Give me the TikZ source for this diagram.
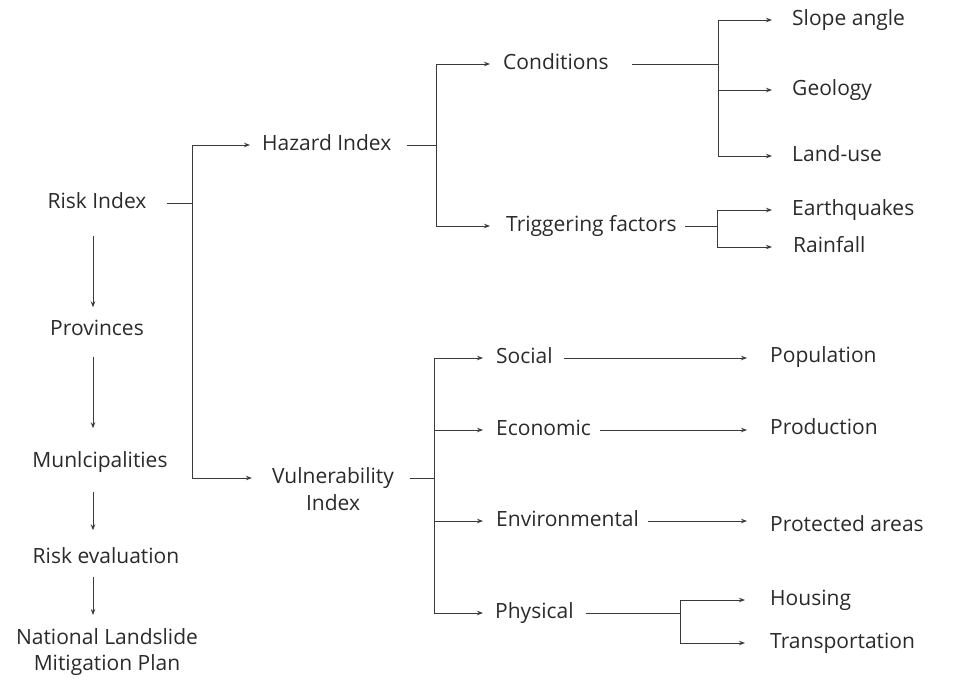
\documentclass[tikz,border=0pt]{standalone}
\usepackage{fontspec}
\setmainfont{Open Sans}
\usetikzlibrary{arrows.meta}
\definecolor{txtc}{HTML}{2A2A2A}
\definecolor{linec}{HTML}{3A3A3A}
\begin{document}
\begin{tikzpicture}[x=1pt,y=-1pt,
  lbl/.style={inner sep=0pt, text=txtc, font=\fontsize{21}{26}\selectfont, text height=16pt, text depth=5pt},
  ln/.style={draw=linec, line width=1pt},
  arr/.style={ln, -{Stealth[length=6pt,width=4.5pt]}},
]
\useasboundingbox (0,0) rectangle (955,680);
% left column
\node[lbl] (risk) at (97,203) {Risk Index};
\node[lbl] (prov) at (97,330) {Provinces};
\node[lbl] (muni) at (100,462) {Munlcipalities};
\node[lbl] (reval) at (106,558) {Risk evaluation};
\node[inner sep=0pt, text=txtc, font=\fontsize{21}{26}\selectfont, align=center, anchor=north] (nlmp) at (107,628) {National Landslide\\Mitigation Plan};
\coordinate (vx) at (93,0);
\draw[arr, shorten <=22pt, shorten >=12pt] (risk.south -| vx) -- (prov.north -| vx);
\draw[arr, shorten <=16pt, shorten >=23pt] (prov.south -| vx) -- (muni.north -| vx);
\draw[arr, shorten <=19pt, shorten >=17pt] (muni.south -| vx) -- (reval.north -| vx);
\draw[arr, shorten <=8pt, shorten >=13pt] (reval.south -| vx) -- (nlmp.north -| vx);
% hazard / vulnerability
\node[lbl, anchor=west] (haz) at (262,145) {Hazard Index};
\node[lbl] (vul) at (333,478) {Vulnerability};
\node[lbl] (vulidx) at (333,505) {Index};
\coordinate (j1) at (192,201);
\draw[ln, shorten <=20pt] (risk.east) -- (risk.east -| j1);
\draw[arr, shorten >=12pt] (j1 |- vul.west) -- (j1 |- haz.west) -- (haz.west);
\draw[arr, shorten >=20pt] (j1 |- vul.west) -- (vul.west);
% hazard branch
\coordinate (j2) at (436,146);
\node[lbl, anchor=west] (cond) at (503,64) {Conditions};
\node[lbl, anchor=west] (trig) at (506,226) {Triggering factors};
\draw[ln, shorten <=15pt] (haz.east) -- (haz.east -| j2);
\draw[arr, shorten >=13pt] (j2 |- trig.west) -- (j2 |- cond.west) -- (cond.west);
\draw[arr, shorten >=16pt] (j2 |- trig.west) -- (trig.west);
% conditions
\coordinate (j3) at (718,62);
\node[lbl, anchor=west] (slope) at (792,20) {Slope angle};
\node[lbl, anchor=west] (geo) at (792,90) {Geology};
\node[lbl, anchor=west] (land) at (792,156) {Land-use};
\draw[ln, shorten <=23pt] (cond.east) -- (cond.east -| j3);
\draw[arr, shorten >=20pt] (j3 |- land.west) -- (j3 |- slope.west) -- (slope.west);
\draw[arr, shorten >=20pt] (j3 |- geo.west) -- (geo.west);
\draw[arr, shorten >=20pt] (j3 |- land.west) -- (land.west);
% triggering
\coordinate (j4) at (717,225);
\node[lbl, anchor=west] (eq) at (792,210) {Earthquakes};
\node[lbl, anchor=west] (rain) at (793,247) {Rainfall};
\draw[ln, shorten <=8pt] (trig.east) -- (trig.east -| j4);
\draw[arr, shorten >=20pt] (j4 |- rain.west) -- (j4 |- eq.west) -- (eq.west);
\draw[arr, shorten >=21pt] (j4 |- rain.west) -- (rain.west);
% vulnerability branch
\coordinate (j5) at (434,477);
\draw[ln, shorten <=16pt] (vul.east) -- (vul.east -| j5);
\node[lbl, anchor=west] (soc) at (496,358) {Social};
\node[lbl, anchor=west] (eco) at (496,430) {Economic};
\node[lbl, anchor=west] (env) at (496,521) {Environmental};
\node[lbl, anchor=west] (phy) at (495,613) {Physical};
\draw[arr, shorten >=13pt] (j5 |- phy.west) -- (j5 |- soc.west) -- (soc.west);
\draw[arr, shorten >=13pt] (j5 |- eco.west) -- (eco.west);
\draw[arr, shorten >=13pt] (j5 |- env.west) -- (env.west);
\draw[arr, shorten >=12pt] (j5 |- phy.west) -- (phy.west);
% right column
\node[lbl, anchor=west] (pop) at (770,357) {Population};
\node[lbl, anchor=west] (prod) at (770,429) {Production};
\node[lbl, anchor=west] (prot) at (770,526) {Protected areas};
\node[lbl, anchor=west] (hous) at (770,600) {Housing};
\node[lbl, anchor=west] (trans) at (770,643) {Transportation};
\draw[arr, shorten <=11pt, shorten >=23pt] (soc.east) -- (soc.east -| pop.west);
\draw[arr, shorten <=9pt, shorten >=23pt] (eco.east) -- (eco.east -| prod.west);
\draw[arr, shorten <=9pt, shorten >=23pt] (env.east) -- (env.east -| prot.west);
\coordinate (j6) at (680,612);
\draw[ln, shorten <=12pt] (phy.east) -- (phy.east -| j6);
\draw[arr, shorten >=25pt] (j6 |- trans.west) -- (j6 |- hous.west) -- (hous.west);
\draw[arr, shorten >=25pt] (j6 |- trans.west) -- (trans.west);
\end{tikzpicture}
\end{document}
